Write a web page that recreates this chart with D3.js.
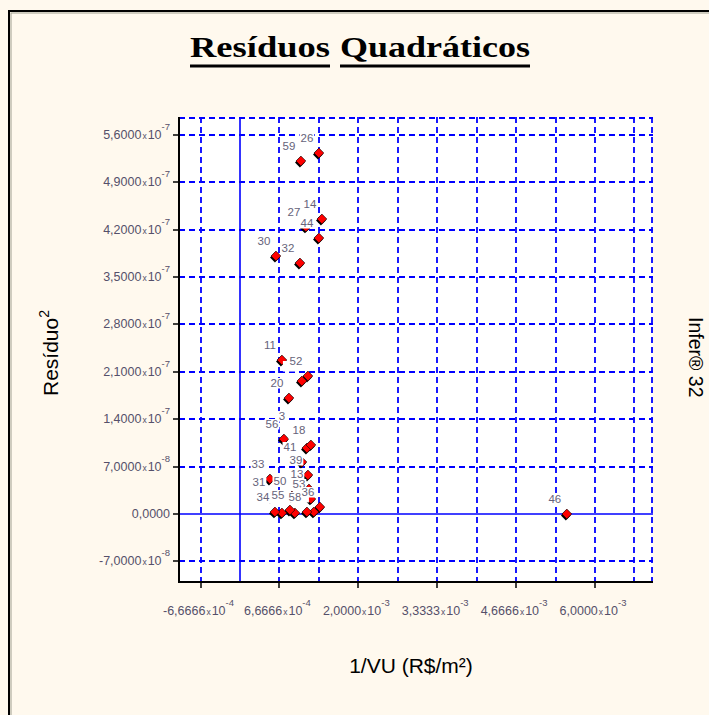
<!DOCTYPE html>
<html>
<head>
<meta charset="utf-8">
<script src="https://cdn.jsdelivr.net/npm/d3@7"></script>
<style>
  html, body { margin: 0; padding: 0; background: #FFF9EE; }
  svg { display: block; }
</style>
</head>
<body>
<script>
// ---------- DATA (drawing order) ----------
const pointIds = ["26","59","14","44","27","30","32","11","8","52","20","56","3","25","18","41","39","33",
                  "31","50","13","53","15","37","21","34","55","58","36","46"];
const pointX = [1.334e-3, 1.030e-3, 1.385e-3, 1.334e-3, 1.115e-3, 0.608e-3, 1.014e-3, 0.709e-3, 1.047e-3, 1.149e-3,
                0.828e-3, 0.743e-3, 0.912e-3, 1.132e-3, 1.199e-3, 1.047e-3, 1.149e-3, 0.507e-3,
                0.524e-3, 0.878e-3, 1.166e-3, 1.199e-3, 0.929e-3, 1.250e-3, 0.709e-3,
                0.591e-3, 0.845e-3, 1.132e-3, 1.351e-3, 5.524e-3];
const pointY = [5.334e-7, 5.216e-7, 4.359e-7, 4.078e-7, 4.241e-7, 3.812e-7, 3.709e-7, 2.275e-7, 1.965e-7, 2.039e-7,
                1.714e-7, 1.108e-7, 1.226e-7, 0.975e-7, 1.020e-7, 0.768e-7, 0.576e-7, 0.517e-7,
                0.251e-7, 0.266e-7, 0.369e-7, 0.222e-7, 0.015e-7, 0.030e-7, 0.015e-7,
                0.030e-7, 0.059e-7, 0.030e-7, 0.103e-7, 0.000e-7];
// labels that are completely hidden under other labels in the original
const hiddenLabels = ["8", "25", "15", "37", "21"];

const xTickValues = [-6.6666e-4, 6.6666e-4, 2.0e-3, 3.3333e-3, 4.6666e-3, 6.0e-3];
const xTickMant = ["-6,6666", "6,6666", "2,0000", "3,3333", "4,6666", "6,0000"];
const xTickExp  = ["-4", "-4", "-3", "-3", "-3", "-3"];

const yTickValues = [-7e-8, 0, 7e-8, 1.4e-7, 2.1e-7, 2.8e-7, 3.5e-7, 4.2e-7, 4.9e-7, 5.6e-7];
const yTickMant = ["-7,0000", "0,0000", "7,0000", "1,4000", "2,1000", "2,8000", "3,5000", "4,2000", "4,9000", "5,6000"];
const yTickExp  = ["-8", "", "-8", "-7", "-7", "-7", "-7", "-7", "-7", "-7"];

const xGridStep = 6.6666e-4;
const yGridStep = 7e-8;

const titleWords = ["Resíduos", "Quadráticos"];
const xTitle = "1/VU (R$/m²)";
const yTitle = "Resíduo";
const sideText = "Infer® 32";

// ---------- LAYOUT ----------
const W = 709, H = 715;
const plot = { left: 179, right: 653, top: 117, bottom: 582 };

const svg = d3.select("body").append("svg").attr("width", W).attr("height", H);

svg.append("rect").attr("x", 0).attr("y", 0).attr("width", W).attr("height", H).attr("fill", "#FFF9EE");
svg.append("rect").attr("x", 9).attr("y", 11).attr("width", W + 10).attr("height", H + 10)
  .attr("fill", "none").attr("stroke", "#000").attr("stroke-width", 2);
svg.append("rect").attr("x", 11).attr("y", 13).attr("width", W + 10).attr("height", H + 10)
  .attr("fill", "none").attr("stroke", "#a0a090").attr("stroke-width", 1);

const x = d3.scaleLinear().domain([-1.03e-3, 6.98e-3]).range([plot.left, plot.right]);
const y = d3.scaleLinear().domain([-1.005e-7, 5.866e-7]).range([plot.bottom, plot.top]);

svg.append("rect").attr("x", plot.left).attr("y", plot.top)
  .attr("width", plot.right - plot.left).attr("height", plot.bottom - plot.top).attr("fill", "#fff");

// grid
const gx = d3.range(-1, 11).map(k => k * xGridStep);
const gy = d3.range(-1, 9).map(k => k * yGridStep);
const grid = svg.append("g");
grid.selectAll("line.vx").data(gx).join("line")
  .attr("x1", d => Math.round(x(d))).attr("x2", d => Math.round(x(d)))
  .attr("y1", plot.top).attr("y2", plot.bottom)
  .attr("stroke", "#0000FF").attr("stroke-width", d => Math.abs(d) < 1e-9 ? 1.6 : 1.8)
  .attr("stroke-dasharray", d => Math.abs(d) < 1e-9 ? null : "6,4");
grid.selectAll("line.hy").data(gy).join("line")
  .attr("y1", d => Math.round(y(d))).attr("y2", d => Math.round(y(d)))
  .attr("x1", plot.left).attr("x2", plot.right)
  .attr("stroke", "#0000FF").attr("stroke-width", d => Math.abs(d) < 1e-15 ? 1.6 : 1.8)
  .attr("stroke-dasharray", d => Math.abs(d) < 1e-15 ? null : "6,4");
grid.append("line").attr("x1", plot.left).attr("x2", plot.right).attr("y1", plot.top + 1).attr("y2", plot.top + 1)
  .attr("stroke", "#0000FF").attr("stroke-width", 1.8).attr("stroke-dasharray", "6,4");
grid.append("line").attr("x1", plot.right - 1).attr("x2", plot.right - 1).attr("y1", plot.top).attr("y2", plot.bottom)
  .attr("stroke", "#0000FF").attr("stroke-width", 1.8).attr("stroke-dasharray", "6,4");

// axis lines
svg.append("line").attr("x1", plot.left).attr("x2", plot.left).attr("y1", plot.top).attr("y2", plot.bottom + 1)
  .attr("stroke", "#000").attr("stroke-width", 2);
svg.append("line").attr("x1", plot.left - 1).attr("x2", plot.right).attr("y1", plot.bottom).attr("y2", plot.bottom)
  .attr("stroke", "#000").attr("stroke-width", 2);

// ticks
svg.selectAll("line.yt").data(yTickValues).join("line")
  .attr("x1", plot.left - 6).attr("x2", plot.left)
  .attr("y1", d => Math.round(y(d))).attr("y2", d => Math.round(y(d)))
  .attr("stroke", "#000").attr("stroke-width", 1.5);
svg.selectAll("line.xt").data(xTickValues).join("line")
  .attr("x1", d => Math.round(x(d))).attr("x2", d => Math.round(x(d)))
  .attr("y1", plot.bottom).attr("y2", plot.bottom + 6)
  .attr("stroke", "#000").attr("stroke-width", 1.5);

const tickColor = "#55506a";
const tickFont = "'Liberation Sans', Arial, sans-serif";

// y tick labels
const yl = svg.selectAll("text.yl").data(yTickValues).join("text")
  .attr("x", 170).attr("y", d => Math.round(y(d)) + 4)
  .attr("text-anchor", "end").attr("font-family", tickFont).attr("fill", tickColor).attr("font-size", 12.5);
yl.each(function(d, i) {
  const t = d3.select(this);
  t.append("tspan").text(yTickMant[i]);
  if (yTickExp[i]) {
    t.append("tspan").attr("font-size", 8.5).attr("dx", 1).text("x");
    t.append("tspan").attr("dx", 1).text("10");
    t.append("tspan").attr("font-size", 9.5).attr("dy", -9).text(yTickExp[i]);
  }
});

// x tick labels
const xl = svg.selectAll("text.xl").data(xTickValues).join("text")
  .attr("x", d => x(d) - 2).attr("y", 615)
  .attr("text-anchor", "middle").attr("font-family", tickFont).attr("fill", tickColor).attr("font-size", 12.5);
xl.each(function(d, i) {
  const t = d3.select(this);
  t.append("tspan").text(xTickMant[i]);
  t.append("tspan").attr("font-size", 8.5).attr("dx", 1).text("x");
  t.append("tspan").attr("dx", 1).text("10");
  t.append("tspan").attr("font-size", 9.5).attr("dy", -9).text(xTickExp[i]);
});

// points
const pts = pointIds.map((id, i) => ({ id, x: pointX[i], y: pointY[i] }));
const diamond = d3.symbol(d3.symbolSquare, 48)();
const pg = svg.append("g");
pg.selectAll("path.sh").data(pts).join("path")
  .attr("d", diamond)
  .attr("transform", d => `translate(${x(d.x) - 1},${y(d.y) + 1.5}) rotate(45)`)
  .attr("fill", "#000");
pg.selectAll("path.pt").data(pts).join("path")
  .attr("d", diamond)
  .attr("transform", d => `translate(${x(d.x)},${y(d.y)}) rotate(45)`)
  .attr("fill", "#FF0000").attr("stroke", "#000").attr("stroke-width", 0.6);

// point labels on white boxes, drawn in data order
const lg = svg.append("g");
pts.forEach(d => {
  const cx = x(d.x) - 12, cy = y(d.y) - 15;
  const g = lg.append("g");
  const hidden = hiddenLabels.includes(d.id);
  const t = g.append("text").attr("x", cx).attr("y", cy + 4)
    .attr("text-anchor", "middle").attr("font-family", tickFont).attr("font-size", 11.5)
    .attr("fill", "#66637a").text(hidden ? "" : d.id);
  if (hidden) {
    g.insert("rect", "text").attr("x", cx - 7).attr("y", cy - 5).attr("width", 14).attr("height", 10.5).attr("fill", "#fff");
  } else {
    const bb = t.node().getBBox();
    g.insert("rect", "text").attr("x", bb.x - 1).attr("y", cy - 5).attr("width", bb.width + 2).attr("height", 10.5)
      .attr("fill", "#fff");
  }
});

// title
const titleFont = "'Liberation Serif', 'Times New Roman', serif";
const tw = [{ w: titleWords[0], x0: 190, len: 140 }, { w: titleWords[1], x0: 340, len: 190 }];
tw.forEach(o => {
  svg.append("text").attr("x", o.x0).attr("y", 57).attr("font-family", titleFont)
    .attr("font-weight", "bold").attr("font-size", 30).attr("fill", "#000")
    .attr("textLength", o.len).attr("lengthAdjust", "spacingAndGlyphs").text(o.w);
  svg.append("rect").attr("x", o.x0).attr("y", 64.5).attr("width", o.len).attr("height", 3).attr("fill", "#000");
});

// axis titles
svg.append("text").attr("x", (plot.left + plot.right) / 2 - 5).attr("y", 673)
  .attr("text-anchor", "middle").attr("font-family", tickFont).attr("font-size", 21).attr("fill", "#000")
  .text(xTitle);
const yt = svg.append("text").attr("transform", "translate(58,353) rotate(-90)")
  .attr("text-anchor", "middle").attr("font-family", tickFont).attr("font-size", 21).attr("fill", "#000");
yt.append("tspan").text(yTitle);
yt.append("tspan").attr("font-size", 14).attr("dy", -9).text("2");

svg.append("text").attr("transform", "translate(689,317) rotate(90)")
  .attr("text-anchor", "start").attr("font-family", tickFont).attr("font-size", 19.5).attr("fill", "#000")
  .text(sideText);
</script>
</body>
</html>
